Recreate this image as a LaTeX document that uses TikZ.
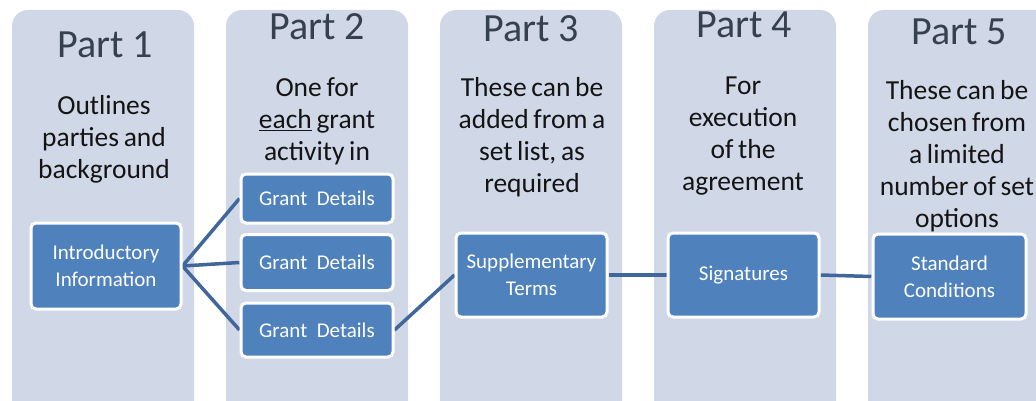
\documentclass[tikz,border=0pt]{standalone}
\usepackage{fontspec}
\setmainfont{Carlito}
\usetikzlibrary{backgrounds}
\definecolor{colbg}{HTML}{D0D8E8}
\definecolor{boxblue}{HTML}{4F81BD}
\definecolor{linkblue}{HTML}{41669A}
\definecolor{titlecol}{HTML}{36414F}
\definecolor{bodycol}{HTML}{141414}
\newcommand{\tightspace}{\spaceskip=0.17em plus 0.05em minus 0.05em\relax}
\newcommand{\stack}[1]{\begin{tabular}[t]{@{}c@{}}#1\end{tabular}}
\tikzset{
  column/.style={fill=colbg, draw=none, rounded corners=16pt},
  parttitle/.style={anchor=base, inner sep=0pt, text=titlecol, font=\fontsize{40}{44}\selectfont},
  parttext/.style={anchor=base, inner sep=0pt, text=bodycol, font=\fontsize{27.5}{32}\selectfont\tightspace},
  bluebox/.style={fill=boxblue, draw=white, line width=3pt, rounded corners=5pt,
    text=white, align=center, inner sep=2pt, font=\fontsize{21}{27}\selectfont},
  link/.style={draw=linkblue, line width=3.5pt}
}
\begin{document}
\begin{tikzpicture}[x=1pt, y=-1pt]
\useasboundingbox (0,0) rectangle (1036,401);

% titles
\node[parttitle] (t1) at (105,58) {Part 1};
\node[parttitle] (t2) at (317,40) {Part 2};
\node[parttitle] (t3) at (531,42) {Part 3};
\node[parttitle] (t4) at (744,38) {Part 4};
\node[parttitle] (t5) at (959,45) {Part 5};

% descriptions
\node[parttext] (d1) at (104,115) {\stack{Outlines\\parties and\\background}};
\node[parttext] (d2) at (317,97) {\stack{One for\\\underline{each} grant\\activity in}};
\node[parttext] (d3) at (532,97) {\stack{These can be\\added from a\\set list, as\\required}};
\node[parttext] (d4) at (743,95) {\stack{For\\execution\\of the\\agreement}};
\node[parttext] (d5) at (957,100) {\stack{These can be\\chosen from\\a limited\\number of set\\options}};

% boxes
\node[bluebox, minimum width=150pt, minimum height=86pt] (intro) at (106,266) {Introductory\\Information};
\node[bluebox, minimum width=152pt, minimum height=49pt] (g1) at (317,198.5) {Grant~~Details};
\node[bluebox, minimum width=152pt, minimum height=56pt] (g2) at (317,262.5) {Grant~~Details};
\node[bluebox, minimum width=152pt, minimum height=54pt] (g3) at (317,330) {Grant~~Details};
\node[bluebox, minimum width=151pt, minimum height=84pt] (supp) at (531.5,275) {Supplementary\\Terms};
\node[bluebox, minimum width=151pt, minimum height=84pt] (sig) at (743.5,275) {Signatures};
\node[bluebox, minimum width=153pt, minimum height=85pt] (std) at (949.5,276.5) {Standard\\Conditions};

\begin{scope}[on background layer]
  \path[column] (12,10) rectangle (194,430);
  \path[column] (226,10) rectangle (408,430);
  \path[column] (440,10) rectangle (622,430);
  \path[column] (654,10) rectangle (836,430);
  \path[column] (868,10) rectangle (1060,430);
  \draw[link] (intro.east) -- (g1.west);
  \draw[link] (intro.east) -- (g2.west);
  \draw[link] (intro.east) -- (g3.west);
  \draw[link] (g3.east) -- (supp.west);
  \draw[link] (supp.east) -- (sig.west);
  \draw[link] (sig.east) -- (std.west);
\end{scope}
\end{tikzpicture}
\end{document}
